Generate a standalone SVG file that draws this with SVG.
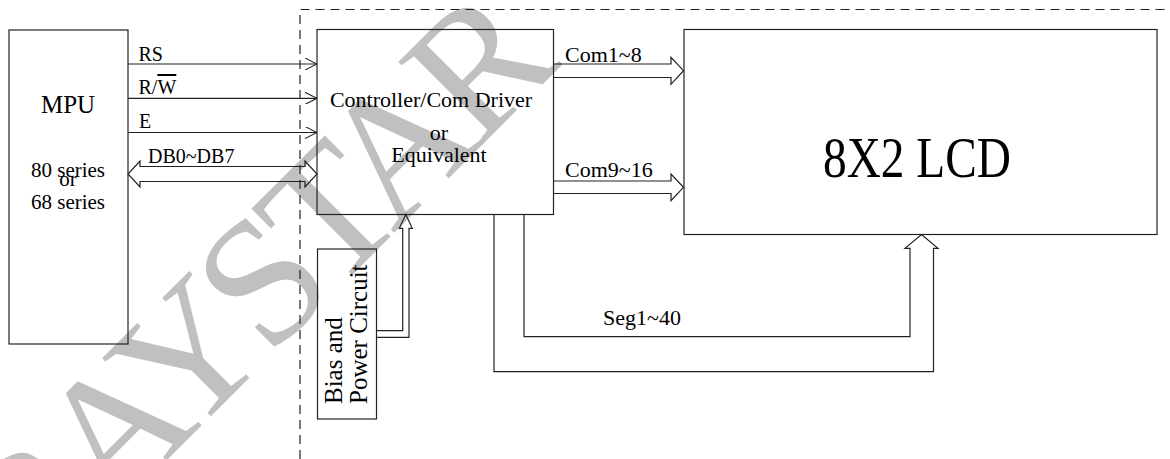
<svg xmlns="http://www.w3.org/2000/svg" width="1170" height="459" viewBox="0 0 1170 459">
<defs>
<style>
.box{fill:none;stroke:#222;stroke-width:1.2}
.ln{fill:none;stroke:#222;stroke-width:1.2}
.dash{fill:none;stroke:#222;stroke-width:1.2;stroke-dasharray:9 6}
.t{font-family:'Liberation Serif','Times New Roman',serif;fill:#000}
.wm{font-family:'Liberation Serif','Times New Roman',serif;fill:#c0c0c0;font-size:180px;letter-spacing:-10px}
</style>
<marker id="v" viewBox="0 0 12 12" refX="12" refY="6" markerWidth="12" markerHeight="12" markerUnits="userSpaceOnUse" orient="auto">
<path d="M0,0 L12,6 L0,12" fill="none" stroke="#222" stroke-width="1.1"/>
</marker>
</defs>
<rect width="1170" height="459" fill="#fff"/>
<g id="watermark">
<text class="wm" transform="translate(33,594) rotate(-45)">RAYSTAR</text>
</g>
<g id="boundary">
<path class="dash" d="M300,459 V9.5 H1170"/>
</g>
<g id="mpu">
<rect class="box" x="9" y="30" width="119" height="314"/>
<text class="t" x="68" y="113" font-size="25" text-anchor="middle">MPU</text>
<text class="t" x="68" y="177" font-size="21" text-anchor="middle">80 series</text>
<text class="t" x="68" y="186" font-size="21" text-anchor="middle">or</text>
<text class="t" x="68" y="209" font-size="21" text-anchor="middle">68 series</text>
</g>
<g id="controller">
<rect class="box" x="317" y="29.5" width="236.5" height="185"/>
<text class="t" x="431" y="106.5" font-size="22" text-anchor="middle">Controller/Com Driver</text>
<text class="t" x="439" y="140" font-size="22" text-anchor="middle">or</text>
<text class="t" x="439" y="161.5" font-size="22" text-anchor="middle">Equivalent</text>
</g>
<g id="lcd">
<rect class="box" x="684" y="29.5" width="473" height="205"/>
<text class="t" x="917" y="177" font-size="56" text-anchor="middle" textLength="188" lengthAdjust="spacingAndGlyphs">8X2 LCD</text>
</g>
<g id="bias">
<rect class="box" x="317.5" y="249" width="59" height="170"/>
<text class="t" font-size="25" transform="translate(341.5,404) rotate(-90)">Bias and</text>
<text class="t" font-size="25" transform="translate(367,404) rotate(-90)">Power Circuit</text>
</g>
<g id="connectors">
<line class="ln" x1="128" y1="64" x2="317" y2="64" marker-end="url(#v)"/>
<line class="ln" x1="128" y1="98.3" x2="317" y2="98.3" marker-end="url(#v)"/>
<line class="ln" x1="128" y1="132.5" x2="317" y2="132.5" marker-end="url(#v)"/>
<path class="ln" d="M140,166.5 H305 V161 L317,174 L305,187 V181.5 H140 V187 L128,174 L140,161 Z"/>
<path class="ln" d="M553.5,64 H671 V57.3 L683.5,70.7 L671,84.3 V77.5 H553.5"/>
<path class="ln" d="M553.5,181 H671 V174 L683.5,187.3 L671,200.7 V193.5 H553.5"/>
<path class="ln" d="M524,214.5 V336.7 H910 V248.3 H905 L921.5,234.5 L938,248.3 H933.5 V371.7 H494 V214.5"/>
<path class="ln" d="M376.5,330.7 H402.7 V228.3 H399.3 L405.8,214.5 L412.3,228.3 H409 V337.3 H376.5"/>
<text class="t" x="138.5" y="60.7" font-size="20">RS</text>
<text class="t" x="138.5" y="94" font-size="20">R/<tspan text-decoration="overline">W</tspan></text>
<text class="t" x="139" y="128.3" font-size="20">E</text>
<text class="t" x="148" y="162.7" font-size="20">DB0~DB7</text>
<text class="t" x="565" y="61.7" font-size="22">Com1~8</text>
<text class="t" x="565" y="176.7" font-size="22">Com9~16</text>
<text class="t" x="603" y="325" font-size="22">Seg1~40</text>
</g>
</svg>
